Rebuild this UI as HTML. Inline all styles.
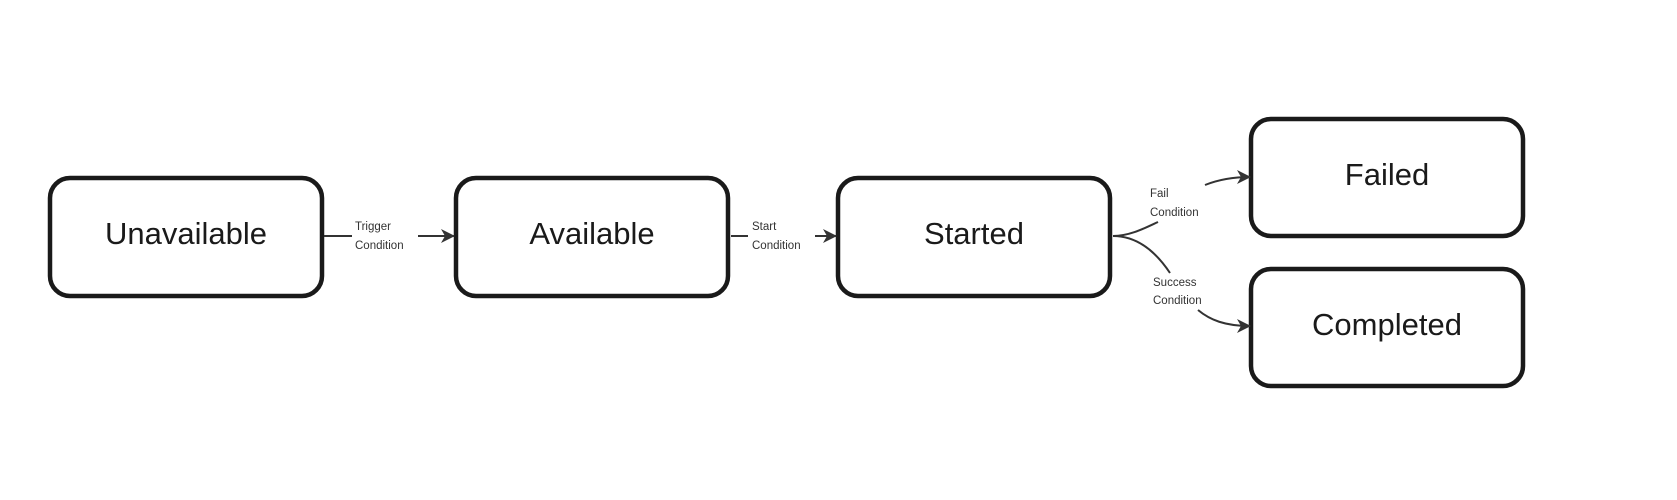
<!DOCTYPE html>
<html><head><meta charset="utf-8"><style>
html,body{margin:0;padding:0;background:#fff;}
svg{display:block;}
.b{fill:#fff;stroke:#1a1a1a;stroke-width:4.5;}
.t{font-family:"Liberation Sans","DejaVu Sans",sans-serif;font-size:31px;fill:#1a1a1a;text-anchor:middle;}
.l{font-family:"Liberation Sans","DejaVu Sans",sans-serif;font-size:11.5px;fill:#333;}
.c{fill:none;stroke:#333;stroke-width:2;}
</style></head><body>
<svg width="1677" height="500" viewBox="0 0 1677 500" xmlns="http://www.w3.org/2000/svg">
<defs><marker id="a" markerWidth="14" markerHeight="14" refX="13" refY="7" orient="auto" markerUnits="userSpaceOnUse"><path d="M0,0 L14,7 L0,14 L4,7 Z" fill="#333"/></marker></defs>
<rect class="b" x="50" y="178" width="272" height="118" rx="20"/>
<rect class="b" x="456" y="178" width="272" height="118" rx="20"/>
<rect class="b" x="838" y="178" width="272" height="118" rx="20"/>
<rect class="b" x="1251" y="119" width="272" height="117" rx="20"/>
<rect class="b" x="1251" y="269" width="272" height="117" rx="20"/>
<text class="t" x="186" y="244">Unavailable</text>
<text class="t" x="592" y="244">Available</text>
<text class="t" x="974" y="244">Started</text>
<text class="t" x="1387" y="185">Failed</text>
<text class="t" x="1387" y="335">Completed</text>
<line class="c" x1="324" y1="236" x2="352" y2="236"/>
<line class="c" x1="418" y1="236" x2="454" y2="236" marker-end="url(#a)"/>
<text class="l" x="355" y="230">Trigger</text><text class="l" x="355" y="249">Condition</text>
<line class="c" x1="731" y1="236" x2="748" y2="236"/>
<line class="c" x1="815" y1="236" x2="836" y2="236" marker-end="url(#a)"/>
<text class="l" x="752" y="230">Start</text><text class="l" x="752" y="249">Condition</text>
<path class="c" d="M1113,236 C1130,236 1145,228 1158,222"/>
<path class="c" d="M1205,185 C1220,179 1235,177 1250,177" marker-end="url(#a)"/>
<text class="l" x="1150" y="197">Fail</text><text class="l" x="1150" y="216">Condition</text>
<path class="c" d="M1113,236 C1140,236 1158,255 1170,273"/>
<path class="c" d="M1198,310 C1210,320 1225,326 1250,326" marker-end="url(#a)"/>
<text class="l" x="1153" y="286">Success</text><text class="l" x="1153" y="304">Condition</text>
</svg>
</body></html>
